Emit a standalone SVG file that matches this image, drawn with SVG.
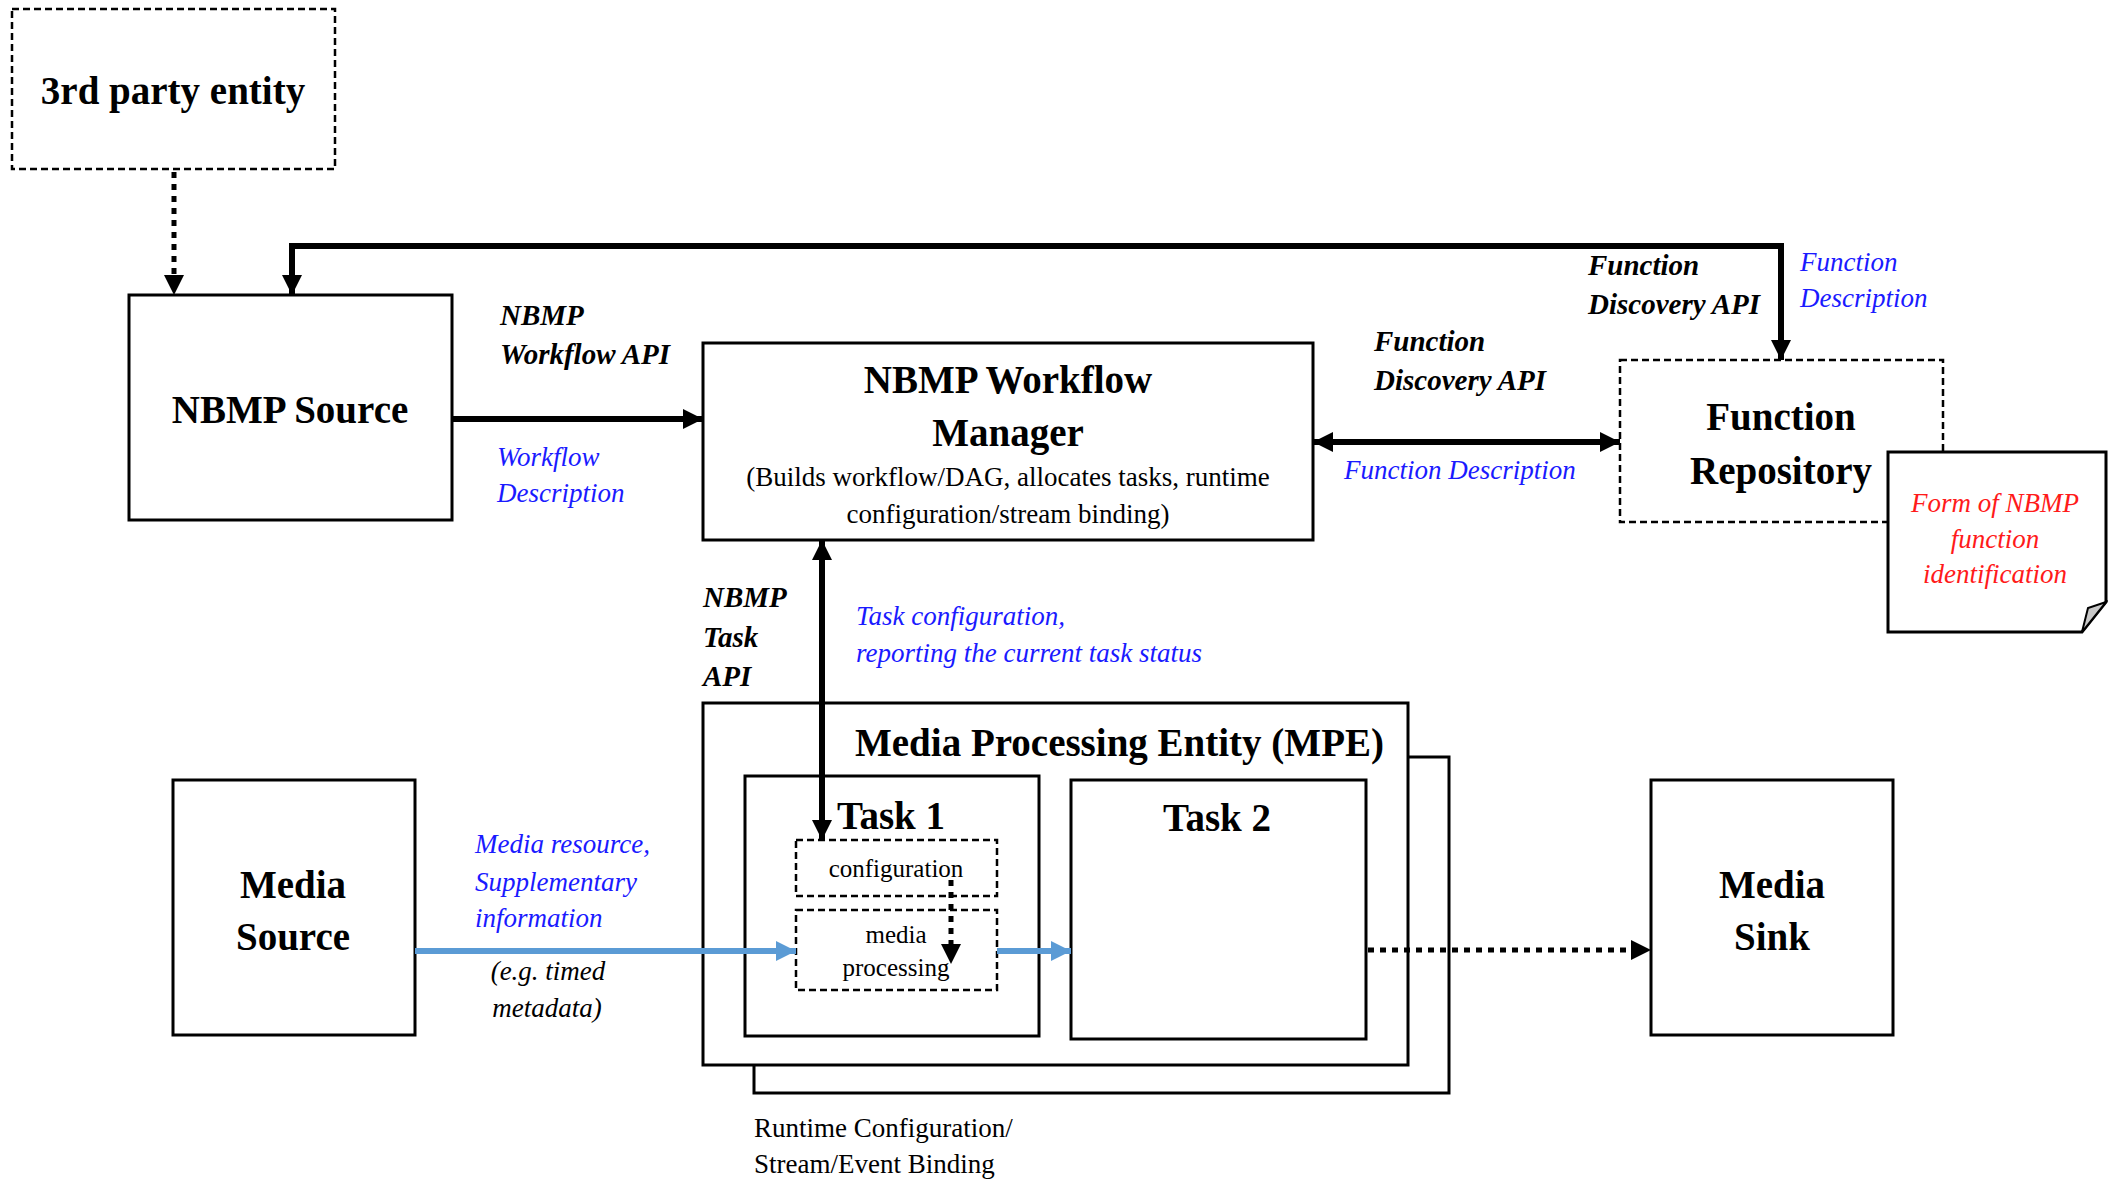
<svg xmlns="http://www.w3.org/2000/svg" width="2108" height="1182" viewBox="0 0 2108 1182">
  <style>
    .box { fill: #ffffff; stroke: #000000; stroke-width: 3; }
    .dbox { fill: #ffffff; stroke: #000000; stroke-width: 2.5; stroke-dasharray: 7 4; }
    .title { font-family: "Liberation Serif", "Times New Roman", serif; font-weight: bold; font-size: 39px; fill: #000; text-anchor: middle; }
    .sub { font-family: "Liberation Serif", "Times New Roman", serif; font-size: 27px; fill: #000; text-anchor: middle; }
    .small { font-family: "Liberation Serif", "Times New Roman", serif; font-size: 25px; fill: #000; text-anchor: middle; }
    .api { font-family: "Liberation Serif", "Times New Roman", serif; font-weight: bold; font-style: italic; font-size: 29px; fill: #000; }
    .desc { font-family: "Liberation Serif", "Times New Roman", serif; font-style: italic; font-size: 27px; fill: #1a1aff; }
    .note { font-family: "Liberation Serif", "Times New Roman", serif; font-style: italic; font-size: 27px; fill: #ff1a1a; text-anchor: middle; }
    .plain { font-family: "Liberation Serif", "Times New Roman", serif; font-size: 27px; fill: #000; }
    .ital { font-family: "Liberation Serif", "Times New Roman", serif; font-style: italic; font-size: 27px; fill: #000; text-anchor: middle; }
    .solid { fill: none; stroke: #000; stroke-width: 6; }
    .dotted { fill: none; stroke: #000; stroke-width: 5; stroke-dasharray: 6 6; }
    .blue { fill: none; stroke: #5b9bd5; stroke-width: 6; }
  </style>
  <defs>
    <marker id="ah" markerUnits="userSpaceOnUse" viewBox="0 0 20 20" refX="20" refY="10" markerWidth="20" markerHeight="20" orient="auto-start-reverse">
      <path d="M0,0 L20,10 L0,20 z" fill="#000"/>
    </marker>
    <marker id="ahb" markerUnits="userSpaceOnUse" viewBox="0 0 20 20" refX="20" refY="10" markerWidth="20" markerHeight="20" orient="auto">
      <path d="M0,0 L20,10 L0,20 z" fill="#5b9bd5"/>
    </marker>
  </defs>
  <rect width="2108" height="1182" fill="#ffffff"/>

  <g id="third-party">
    <rect class="dbox" x="12" y="9" width="323" height="160"/>
    <text class="title" x="173" y="104">3rd party entity</text>
  </g>

  <g id="nbmp-source">
    <rect class="box" x="129" y="295" width="323" height="225"/>
    <text class="title" x="290" y="423">NBMP Source</text>
  </g>

  <g id="workflow-manager">
    <rect class="box" x="703" y="343" width="610" height="197"/>
    <text class="title" x="1008" y="393">NBMP Workflow</text>
    <text class="title" x="1008" y="446">Manager</text>
    <text class="sub" x="1008" y="486">(Builds workflow/DAG, allocates tasks, runtime</text>
    <text class="sub" x="1008" y="523">configuration/stream binding)</text>
  </g>

  <g id="function-repository">
    <rect class="dbox" x="1620" y="360" width="323" height="162"/>
    <text class="title" x="1781" y="430">Function</text>
    <text class="title" x="1781" y="484">Repository</text>
  </g>

  <g id="function-id-note">
    <path d="M1888,452 H2106 V602 L2082,632 H1888 Z" fill="#ffffff" stroke="#000" stroke-width="3"/>
    <path d="M2082,632 L2088,608 L2106,602 Z" fill="#c8c8c8" stroke="#000" stroke-width="2"/>
    <text class="note" x="1995" y="512">Form of NBMP</text>
    <text class="note" x="1995" y="548">function</text>
    <text class="note" x="1995" y="583">identification</text>
  </g>

  <g id="mpe">
    <rect class="box" x="754" y="757" width="695" height="336"/>
    <rect class="box" x="703" y="703" width="705" height="362"/>
    <text class="title" x="855" y="756" style="text-anchor:start">Media Processing Entity (MPE)</text>
  </g>

  <g id="task1">
    <rect class="box" x="745" y="776" width="294" height="260"/>
    <text class="title" x="891" y="829">Task 1</text>
  </g>

  <g id="task1-configuration">
    <rect class="dbox" x="796" y="840" width="201" height="56"/>
    <text class="small" x="896" y="877">configuration</text>
  </g>

  <g id="task1-media-processing">
    <rect class="dbox" x="796" y="910" width="201" height="80"/>
    <text class="small" x="896" y="943">media</text>
    <text class="small" x="896" y="976">processing</text>
  </g>

  <g id="task2">
    <rect class="box" x="1071" y="780" width="295" height="259"/>
    <text class="title" x="1217" y="831">Task 2</text>
  </g>

  <g id="media-source">
    <rect class="box" x="173" y="780" width="242" height="255"/>
    <text class="title" x="293" y="898">Media</text>
    <text class="title" x="293" y="950">Source</text>
  </g>

  <g id="media-sink">
    <rect class="box" x="1651" y="780" width="242" height="255"/>
    <text class="title" x="1772" y="898">Media</text>
    <text class="title" x="1772" y="950">Sink</text>
  </g>

  <g id="connectors">
    <path class="dotted" d="M174,172 V280"/>
    <path d="M174,276 V295" stroke="none" marker-end="url(#ah)"/>
    <path class="solid" d="M1781,344 V246 H292 V295" marker-end="url(#ah)"/>
    <path class="solid" d="M1781,330 V360" marker-end="url(#ah)"/>
    <path class="solid" d="M452,419 H703" marker-end="url(#ah)"/>
    <path class="solid" d="M1313,442 H1620" marker-start="url(#ah)" marker-end="url(#ah)"/>
    <path class="solid" d="M822,540 V840" marker-start="url(#ah)" marker-end="url(#ah)"/>
    <path class="dotted" d="M951,880 V945"/>
    <path d="M951,945 V964" stroke="none" marker-end="url(#ah)"/>
    <path class="blue" d="M415,951 H796" marker-end="url(#ahb)"/>
    <path class="blue" d="M997,951 H1071" marker-end="url(#ahb)"/>
    <path class="dotted" d="M1368,950 H1633" stroke-width="6"/>
    <path d="M1633,950 H1651" stroke="none" marker-end="url(#ah)"/>
  </g>

  <g id="labels">
    <text class="api" x="500" y="325">NBMP</text>
    <text class="api" x="500" y="364">Workflow API</text>
    <text class="desc" x="497" y="466">Workflow</text>
    <text class="desc" x="497" y="502">Description</text>
    <text class="api" x="1374" y="351">Function</text>
    <text class="api" x="1374" y="390">Discovery API</text>
    <text class="desc" x="1344" y="479">Function Description</text>
    <text class="api" x="1588" y="275">Function</text>
    <text class="api" x="1588" y="314">Discovery API</text>
    <text class="desc" x="1800" y="271">Function</text>
    <text class="desc" x="1800" y="307">Description</text>
    <text class="api" x="703" y="607">NBMP</text>
    <text class="api" x="703" y="647">Task</text>
    <text class="api" x="703" y="686">API</text>
    <text class="desc" x="856" y="625">Task configuration,</text>
    <text class="desc" x="856" y="662">reporting the current task status</text>
    <text class="desc" x="475" y="853">Media resource,</text>
    <text class="desc" x="475" y="891">Supplementary</text>
    <text class="desc" x="475" y="927">information</text>
    <text class="ital" x="548" y="980">(e.g. timed</text>
    <text class="ital" x="547" y="1017">metadata)</text>
    <text class="plain" x="754" y="1137">Runtime Configuration/</text>
    <text class="plain" x="754" y="1173">Stream/Event Binding</text>
  </g>
</svg>
